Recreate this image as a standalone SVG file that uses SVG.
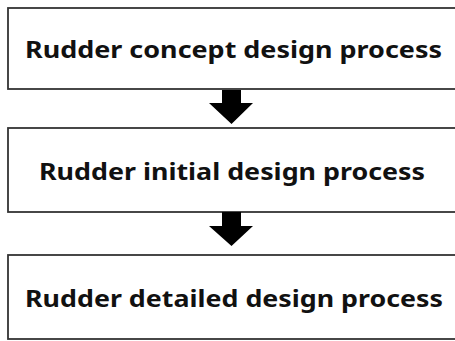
<svg xmlns="http://www.w3.org/2000/svg" width="455" height="341" viewBox="0 0 455 341">
  <style>
    .box { fill: #ffffff; stroke: #333333; stroke-width: 1.8; }
    .label { font-family: "Noto Sans", "Open Sans", sans-serif; font-weight: bold; font-size: 23px; fill: #111111; }
    .arrow { fill: #000000; }
  </style>
  <rect width="455" height="341" fill="#ffffff"/>
  <g id="concept">
    <rect class="box" x="8" y="8" width="460" height="81"/>
    <text class="label" x="25" y="58" textLength="417" lengthAdjust="spacingAndGlyphs">Rudder concept design process</text>
  </g>
  <g id="initial">
    <rect class="box" x="8" y="128" width="460" height="84"/>
    <text class="label" x="39" y="180" textLength="386" lengthAdjust="spacingAndGlyphs">Rudder initial design process</text>
  </g>
  <g id="detailed">
    <rect class="box" x="8" y="255" width="460" height="84"/>
    <text class="label" x="25" y="307" textLength="418" lengthAdjust="spacingAndGlyphs">Rudder detailed design process</text>
  </g>
  <g id="connectors">
    <polygon class="arrow" points="222,90 241,90 241,103 253,103 231.5,124 209,103 222,103"/>
    <polygon class="arrow" points="222,212 241,212 241,226 253,226 231.5,246 209,226 222,226"/>
  </g>
</svg>
